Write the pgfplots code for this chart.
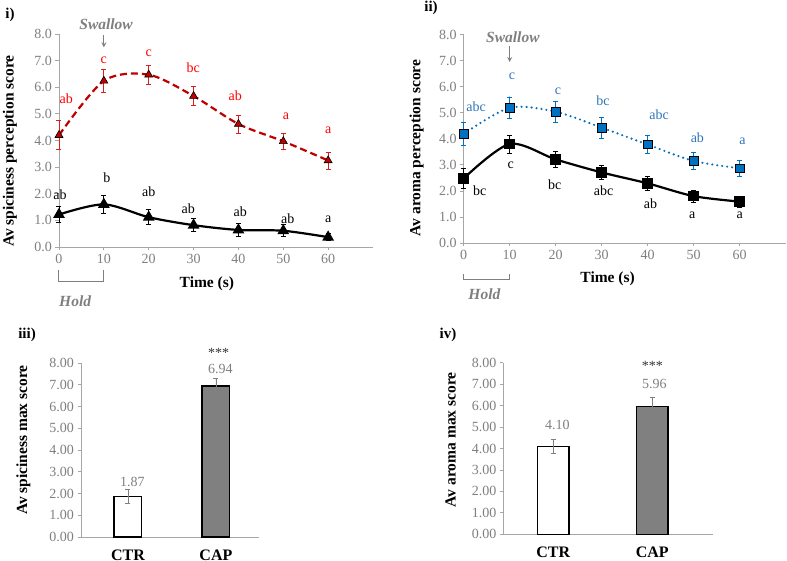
\documentclass[border=0pt]{standalone}
\usepackage{pgfplots}
\pgfplotsset{compat=1.18}
\usepackage{fontspec}
\setmainfont{Liberation Serif}

\definecolor{axgray}{HTML}{A6A6A6}
\definecolor{txtgray}{HTML}{7F7F7F}
\definecolor{cred}{HTML}{C00000}
\definecolor{lred}{HTML}{FF0000}
\definecolor{ebred}{HTML}{D62020}
\definecolor{cblue}{HTML}{0070C0}
\definecolor{lblue}{HTML}{2E75B6}
\definecolor{bargray}{HTML}{808080}

\newcommand\fs[1]{\fontsize{#1}{#1}\selectfont}

\tikzset{
  lab/.style={font=\fs{14}},
  note/.style={font=\fs{15.5}\bfseries\itshape, text=txtgray},
}

\pgfplotsset{
  panel/.style={
    scale only axis, clip=false, anchor=south west,
    axis x line*=bottom, axis y line*=left,
    axis line style={draw=axgray, line width=0.8pt},
    tick style={draw=axgray, line width=0.8pt},
    tick align=outside, major tick length=3.5pt,
    ticklabel style={font=\fs{14}, text=txtgray},
    /pgf/number format/assume math mode=true,
    every axis label/.append style={font=\fs{15.5}\bfseries, text=black},
    ymin=0, ymax=8, ytick={0,1,...,8},
  },
  line panel/.style={
    panel, xmin=0, xmax=70, xtick={0,10,...,60},
    yticklabel style={/pgf/number format/.cd, fixed, fixed zerofill, precision=1},
  },
  bar panel/.style={
    panel, xtick={0,1}, xticklabels={CTR,CAP}, xtick style={draw=none},
    xticklabel style={font=\fs{16}\bfseries, text=black, yshift=-6pt},
    yticklabel style={/pgf/number format/.cd, fixed, fixed zerofill, precision=2},
  },
  ebar/.style={error bars/.cd, y dir=both, y explicit,
    error bar style={solid, line width=0.8pt, draw=#1},
    error mark options={solid, rotate=90, mark size=2.5pt, line width=0.8pt, draw=#1}},
}

\begin{document}
\begin{tikzpicture}
\path[use as bounding box] (0pt,0pt) rectangle (787pt,561pt);

% ---------- i) spiciness over time
\begin{axis}[line panel, at={(59pt,314pt)}, width=314pt, height=213pt,
  xlabel={Time (s)}, ylabel={Av spiciness perception score},
  every axis x label/.style={at={(axis description cs:0.471,0)}, anchor=center, yshift=-37pt},
  every axis y label/.style={at={(axis description cs:0,0.45)}, xshift=-49pt, rotate=90, anchor=center}]
\addplot[cred, line width=2.2pt, dash pattern=on 7pt off 4pt, smooth,
  mark=triangle*, mark size=4.6pt, mark options={solid, fill=cred, draw=black, line width=0.6pt},
  ebar=ebred]
  coordinates {(0,4.20) +- (0,0.54) (10,6.24) +- (0,0.42) (20,6.47) +- (0,0.35)
    (30,5.67) +- (0,0.35) (40,4.62) +- (0,0.34) (50,3.97) +- (0,0.31) (60,3.25) +- (0,0.32)};
\addplot[black, line width=2.2pt, smooth,
  mark=triangle*, mark size=4.6pt, mark options={solid, fill=black, draw=black},
  ebar=black]
  coordinates {(0,1.22) +- (0,0.30) (10,1.60) +- (0,0.34) (20,1.12) +- (0,0.29)
    (30,0.82) +- (0,0.25) (40,0.64) +- (0,0.23) (50,0.61) +- (0,0.23) (60,0.37) +- (0,0.13)};
\begin{scope}[every node/.style={lab, text=lred}]
\node at (axis cs:1.6,5.58) {ab}; \node at (axis cs:10,7.00) {c};
\node at (axis cs:20,7.26) {c};   \node at (axis cs:29.9,6.72) {bc};
\node at (axis cs:39.3,5.70) {ab}; \node at (axis cs:50.6,4.90) {a};
\node at (axis cs:60,4.40) {a};
\end{scope}
\begin{scope}[every node/.style={lab, text=black}]
\node at (axis cs:0.2,1.97) {ab}; \node at (axis cs:10.7,2.60) {b};
\node at (axis cs:20,2.09) {ab};  \node at (axis cs:28.8,1.45) {ab};
\node at (axis cs:40.4,1.33) {ab}; \node at (axis cs:51,1.05) {ab};
\node at (axis cs:60,1.05) {a};
\end{scope}
\node[note] at (axis cs:10.5,8.38) {Swallow};
\draw[txtgray, line width=1.2pt, -stealth] (axis cs:10,7.95) -- (axis cs:10,7.5);
\draw[txtgray, line width=1pt] (axis cs:0,-0.86) -- (axis cs:0,-1.3) -- (axis cs:10,-1.3) -- (axis cs:10,-0.86);
\node[note] at (axis cs:3.6,-2.05) {Hold};
\end{axis}

% ---------- ii) aroma over time
\begin{axis}[line panel, at={(463.7pt,318pt)}, width=322pt, height=208.3pt,
  xlabel={Time (s)}, ylabel={Av aroma perception score},
  every axis x label/.style={at={(axis description cs:0.447,0)}, anchor=center, yshift=-36pt},
  every axis y label/.style={at={(axis description cs:0,0.456)}, xshift=-47pt, rotate=90, anchor=center}]
\addplot[cblue, line width=2.4pt, dash pattern=on 0pt off 5pt, line cap=round, smooth,
  mark=square*, mark size=4.2pt, mark options={solid, fill=cblue, draw=black, line width=0.6pt},
  ebar=cblue]
  coordinates {(0,4.19) +- (0,0.45) (10,5.19) +- (0,0.42) (20,5.04) +- (0,0.40)
    (30,4.43) +- (0,0.40) (40,3.78) +- (0,0.34) (50,3.15) +- (0,0.32) (60,2.87) +- (0,0.30)};
\addplot[black, line width=2.2pt, smooth,
  mark=square*, mark size=4.2pt, mark options={solid, fill=black, draw=black},
  ebar=black]
  coordinates {(0,2.48) +- (0,0.38) (10,3.80) +- (0,0.35) (20,3.21) +- (0,0.29)
    (30,2.71) +- (0,0.26) (40,2.29) +- (0,0.27) (50,1.80) +- (0,0.23) (60,1.59) +- (0,0.21)};
\begin{scope}[every node/.style={lab, text=lblue}]
\node at (axis cs:2.7,5.24) {abc}; \node at (axis cs:10.5,6.39) {c};
\node at (axis cs:20.5,5.81) {c};  \node at (axis cs:30.3,5.47) {bc};
\node at (axis cs:42.5,4.92) {abc}; \node at (axis cs:50.8,4.06) {ab};
\node at (axis cs:60.6,3.92) {a};
\end{scope}
\begin{scope}[every node/.style={lab, text=black}]
\node at (axis cs:3.5,2.01) {bc};  \node at (axis cs:10.2,2.97) {c};
\node at (axis cs:19.8,2.25) {bc}; \node at (axis cs:30.4,2.01) {abc};
\node at (axis cs:40.6,1.51) {ab}; \node at (axis cs:49.7,1.05) {a};
\node at (axis cs:60,1.05) {a};
\end{scope}
\node[note] at (axis cs:10.7,7.9) {Swallow};
\draw[txtgray, line width=1.2pt, -stealth] (axis cs:10,7.55) -- (axis cs:10,6.95);
\draw[txtgray, line width=1pt] (axis cs:0,-1.2) -- (axis cs:0,-1.42) -- (axis cs:10,-1.42) -- (axis cs:10,-1.2);
\node[note] at (axis cs:4.5,-1.97) {Hold};
\end{axis}

% ---------- iii) spiciness max
\begin{axis}[bar panel, at={(81pt,24pt)}, width=178pt, height=174pt,
  xmin=-0.534, xmax=1.49, ylabel={Av spiciness max score},
  every axis y label/.style={at={(axis description cs:0,0.557)}, xshift=-57.7pt, rotate=90, anchor=center}]
\addplot[ybar, bar width=0.315, bar shift=0pt, fill=white, draw=black, line width=1.3pt, ebar=txtgray]
  coordinates {(0,1.87) +- (0,0.33)};
\addplot[ybar, bar width=0.315, bar shift=0pt, fill=bargray, draw=black, line width=1.3pt, ebar=txtgray]
  coordinates {(1,6.94) +- (0,0.35)};
\node[lab, text=txtgray] at (axis cs:0.05,2.51) {1.87};
\node[lab, text=txtgray] at (axis cs:1.05,7.74) {6.94};
\node[lab, text=black!80] at (axis cs:1.03,8.45) {***};
\end{axis}

% ---------- iv) aroma max
\begin{axis}[bar panel, at={(503.3pt,26.7pt)}, width=209.4pt, height=171.6pt,
  xmin=-0.505, xmax=1.61, ylabel={Av aroma max score},
  every axis y label/.style={at={(axis description cs:0,0.551)}, xshift=-52.6pt, rotate=90, anchor=center}]
\addplot[ybar, bar width=0.316, bar shift=0pt, fill=white, draw=black, line width=1.3pt, ebar=txtgray]
  coordinates {(0,4.10) +- (0,0.32)};
\addplot[ybar, bar width=0.316, bar shift=0pt, fill=bargray, draw=black, line width=1.3pt, ebar=txtgray]
  coordinates {(1,5.96) +- (0,0.40)};
\node[lab, text=txtgray] at (axis cs:0.04,5.09) {4.10};
\node[lab, text=txtgray] at (axis cs:1.02,7.03) {5.96};
\node[lab, text=black!80] at (axis cs:1.0,7.87) {***};
\end{axis}

% panel tags
\node[font=\fs{15}\bfseries] at (10pt,546pt) {i)};
\node[font=\fs{15}\bfseries] at (431pt,553pt) {ii)};
\node[font=\fs{15}\bfseries] at (27pt,226pt) {iii)};
\node[font=\fs{15}\bfseries] at (448pt,226pt) {iv)};
\end{tikzpicture}
\end{document}
